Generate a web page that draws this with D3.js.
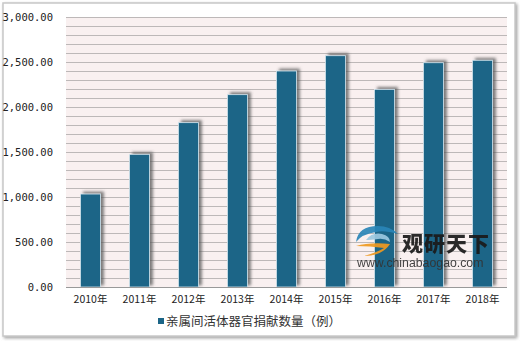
<!DOCTYPE html>
<html>
<head>
<meta charset="utf-8">
<script src="https://cdn.jsdelivr.net/npm/d3@7"></script>
<style>
  body { margin: 0; background: #fff; }
  svg { display: block; }
  .tick text { font-family: "DejaVu Sans Mono", monospace; font-size: 10.5px; fill: #222; }
</style>
</head>
<body>
<svg id="chart" width="520" height="341"></svg>
<script>
// chart data
let years = ["2010年", "2011年", "2012年", "2013年", "2014年", "2015年", "2016年", "2017年", "2018年"];
let donations = [1033, 1474, 1826, 2137, 2400, 2570, 2196, 2492, 2519];
let yTicks = [0, 500, 1000, 1500, 2000, 2500, 3000];
let seriesName = "亲属间活体器官捐献数量（例）";

let svg = d3.select("#chart");

let plot = { left: 66, right: 507, top: 17, bottom: 287 };

let defs = svg.append("defs");

let frameShadow = defs.append("filter").attr("id", "frameShadow")
  .attr("x", "-5%").attr("y", "-5%").attr("width", "110%").attr("height", "110%");
frameShadow.append("feDropShadow")
  .attr("dx", 1.5).attr("dy", 1.5).attr("stdDeviation", 1.5)
  .attr("flood-color", "#888").attr("flood-opacity", 0.8);

let barShadow = defs.append("filter").attr("id", "barShadow")
  .attr("x", "-50%").attr("y", "-10%").attr("width", "200%").attr("height", "120%");
barShadow.append("feDropShadow")
  .attr("dx", 3).attr("dy", -2).attr("stdDeviation", 1.6)
  .attr("flood-color", "#555").attr("flood-opacity", 0.75);

// outer frame
svg.append("rect")
  .attr("x", 3).attr("y", 3).attr("width", 512).attr("height", 333)
  .attr("fill", "#fff").attr("stroke", "#c8c8c8").attr("stroke-width", 1.5)
  .attr("filter", "url(#frameShadow)");

let x = d3.scaleBand()
  .domain(years)
  .range([plot.left, plot.right])
  .paddingInner(0.59)
  .paddingOuter(0.295);

let y = d3.scaleLinear()
  .domain([0, 3000])
  .range([plot.bottom, plot.top]);

// plot background
svg.append("rect")
  .attr("x", plot.left).attr("y", plot.top)
  .attr("width", plot.right - plot.left).attr("height", plot.bottom - plot.top)
  .attr("fill", "#f9f0f0");

// gridlines every 100
svg.append("g")
  .selectAll("line")
  .data(d3.range(100, 3001, 100))
  .join("line")
  .attr("x1", plot.left).attr("x2", plot.right)
  .attr("y1", (d) => Math.round(y(d)) + 0.5).attr("y2", (d) => Math.round(y(d)) + 0.5)
  .attr("stroke", "#bdb8b8").attr("stroke-width", 1);

// bars
svg.append("g")
  .selectAll("rect")
  .data(donations)
  .join("rect")
  .attr("x", (d, i) => x(years[i]))
  .attr("y", (d) => y(d))
  .attr("width", x.bandwidth())
  .attr("height", (d) => y(0) - y(d))
  .attr("fill", "#1b6587")
  .attr("stroke", "#d6e6ee").attr("stroke-width", 0.8)
  .attr("filter", "url(#barShadow)");

// baseline
svg.append("line")
  .attr("x1", plot.left).attr("x2", plot.right)
  .attr("y1", plot.bottom + 0.5).attr("y2", plot.bottom + 0.5)
  .attr("stroke", "#999");

// axes
let yAxis = svg.append("g")
  .attr("transform", `translate(${plot.left - 10},0)`)
  .call(d3.axisLeft(y).tickValues(yTicks).tickSize(0).tickFormat(d3.format(",.2f")));
yAxis.select(".domain").remove();

let xAxis = svg.append("g")
  .attr("transform", `translate(0,${plot.bottom + 6})`)
  .call(d3.axisBottom(x).tickSize(0));
xAxis.select(".domain").remove();
xAxis.selectAll("text").style("font-family", "'Noto Sans CJK SC', sans-serif").style("font-size", "10.5px");

// legend
svg.append("rect")
  .attr("x", 158).attr("y", 318).attr("width", 6).attr("height", 6)
  .attr("fill", "#1b6587");
svg.append("text")
  .attr("x", 166).attr("y", 326)
  .attr("font-family", "'Noto Sans CJK SC', sans-serif").attr("font-size", 12.5)
  .attr("fill", "#333")
  .text(seriesName);

// watermark
let wm = svg.append("g").attr("opacity", 0.92);
wm.append("path")
  .attr("d", "M 356 246 q 14 -4 34 -2 q -8 12 -26 12 q 14 -4 20 -8 q -14 -2 -28 -2 z")
  .attr("fill", "#f09a20");
wm.append("path")
  .attr("d", "M 356 242 q 2 -16 22 -16 q 12 0 20 8 q -14 -4 -22 -2 q -14 2 -20 10 z")
  .attr("fill", "#2a86b8");
wm.append("path")
  .attr("d", "M 366 240 q 6 -8 16 -6 q 8 2 8 8 q -6 -4 -12 -3 q -8 1 -12 1 z")
  .attr("fill", "#9bc8e0");
wm.append("text")
  .attr("x", 402).attr("y", 251)
  .attr("font-family", "'Noto Sans CJK SC', sans-serif").attr("font-weight", 900)
  .attr("font-size", 21).attr("letter-spacing", 1).attr("fill", "#1a1a1a")
  .text("观研天下");
wm.append("text")
  .attr("x", 357).attr("y", 267)
  .attr("font-family", "'Liberation Sans', Arial, sans-serif")
  .attr("font-size", 12.3).attr("fill", "#333")
  .text("www.chinabaogao.com");
</script>
</body>
</html>
